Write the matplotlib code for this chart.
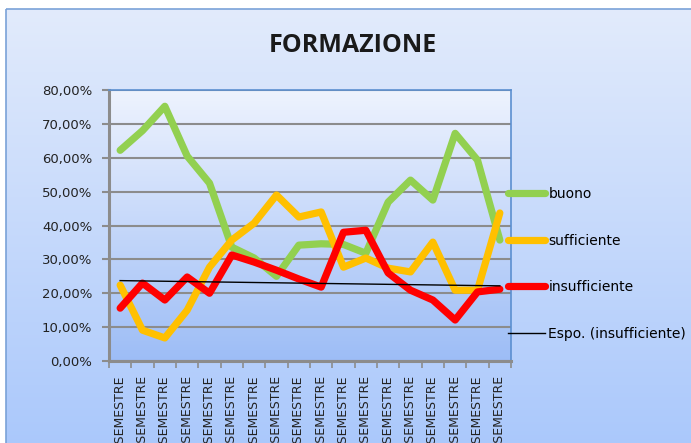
import numpy as np
import matplotlib
matplotlib.use('Agg')
import matplotlib.pyplot as plt
from matplotlib.colors import LinearSegmentedColormap
from matplotlib.patches import Rectangle
from matplotlib.ticker import FuncFormatter, FixedLocator

# Dati (percentuali)
etichette = ['I SEMESTRE', 'II SEMESTRE'] * 9
buono = [62.2, 68.0, 75.2, 60.5, 52.5, 33.6, 30.4, 25.0, 34.2,
         34.6, 34.4, 31.8, 46.9, 53.4, 47.5, 67.2, 59.3, 35.7]
sufficiente = [22.4, 9.1, 6.8, 15.0, 27.7, 35.7, 40.7, 49.0, 42.5,
               44.0, 27.7, 30.4, 27.4, 26.3, 35.1, 20.9, 20.9, 43.7]
insufficiente = [15.6, 23.0, 18.0, 24.8, 20.0, 31.3, 29.2, 26.8, 24.2,
                 21.8, 38.0, 38.6, 26.0, 20.9, 18.0, 12.1, 20.4, 21.2]

plt.rcParams['font.family'] = ['DejaVu Sans']

fig = plt.figure(figsize=(6.91, 4.43), dpi=100)
W, H = 691, 443

# sfondo dell'area grafico (sfumatura)
bg = fig.add_axes([0, 0, 1, 1], zorder=-10)
bg.set_axis_off()
cmap_bg = LinearSegmentedColormap.from_list('bg', ['#e2ebfc', '#aac8fb'])
grad = np.linspace(0, 1, 256).reshape(-1, 1)
bg.imshow(grad, cmap=cmap_bg, aspect='auto', extent=(6, W + 5, H + 5, 9))
bg.add_patch(Rectangle((6, 9), W, H, fill=False, edgecolor='#7aa2d8', lw=1.2))
bg.set_xlim(0, W)
bg.set_ylim(H, 0)

ax = fig.add_axes([109 / W, (H - 361) / H, (511 - 109) / W, (361 - 90) / H])
x = np.arange(len(buono))

cmap_pa = LinearSegmentedColormap.from_list('pa', ['#eef3fe', '#9dbdf6'])
ax.imshow(grad, cmap=cmap_pa, aspect='auto', extent=(-0.5, 17.5, 0, 80), zorder=0)

stile = dict(lw=5.2, solid_capstyle='round', solid_joinstyle='round')
ax.plot(x, buono, color='#92d050', zorder=3, label='buono', **stile)
ax.plot(x, sufficiente, color='#ffc000', zorder=4, label='sufficiente', **stile)
ax.plot(x, insufficiente, color='#ff0000', zorder=5, label='insufficiente', **stile)

# linea di tendenza esponenziale (come Excel)
b, a = np.polyfit(x, np.log(insufficiente), 1)
ax.plot(x, np.exp(a + b * x), color='black', lw=1.0, zorder=6, label='Espo. (insufficiente)')

ax.set_xlim(-0.5, 17.5)
ax.set_ylim(0, 80)
ax.yaxis.set_major_locator(FixedLocator(np.arange(0, 81, 10)))
ax.yaxis.set_major_formatter(FuncFormatter(lambda v, p: f'{v:.2f}%'.replace('.', ',')))
ax.grid(axis='y', color='#8c8c8c', lw=1.5, zorder=1)
ax.set_axisbelow(True)

ax.set_xticks(np.arange(-0.5, 18, 1), minor=False)
ax.set_xticklabels([])
ax.set_xticks(x, minor=True)
ax.set_xticklabels(etichette, minor=True, rotation=90, fontsize=9, color='#222222')
ax.tick_params(axis='x', which='major', length=5, color='#8c8c8c', width=1.2, direction='out')
ax.tick_params(axis='x', which='minor', length=0, pad=11)
ax.tick_params(axis='y', length=5, color='#8c8c8c', width=1.5, labelsize=9.5, pad=7, labelcolor='#222222')

for s in ['left', 'bottom']:
    ax.spines[s].set_color('#8c8c8c')
    ax.spines[s].set_linewidth(2.2)
for s in ['top', 'right']:
    ax.spines[s].set_color('#5b8fd0')
    ax.spines[s].set_linewidth(1.2)
ax.patch.set_alpha(0)

fig.text(353 / W, 1 - 45 / H, 'FORMAZIONE', ha='center', va='center',
         fontsize=18, fontweight='bold', color='#1a1a1a', family='Open Sans')

handles, labels = ax.get_legend_handles_labels()
fig.legend(handles, labels, loc='upper left', bbox_to_anchor=(508 / W, 1 - 187 / H),
           frameon=False, fontsize=10, handlelength=2.65, handletextpad=0.25,
           labelspacing=2.35, borderaxespad=0, borderpad=0)

fig.savefig('out.png', dpi=100)
